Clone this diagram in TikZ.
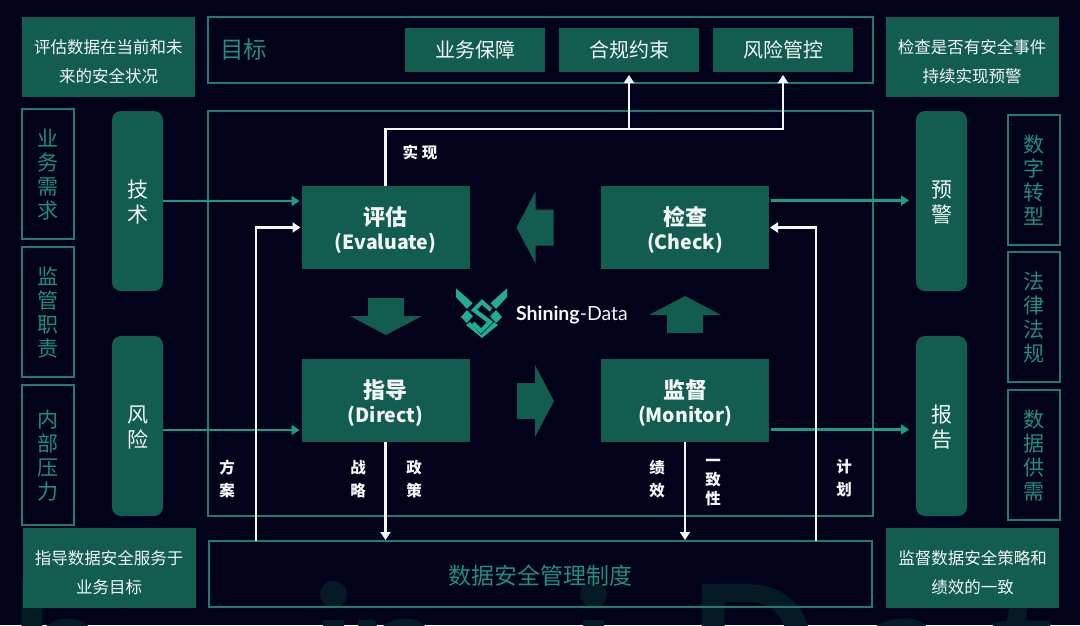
\documentclass[tikz,border=0pt]{standalone}
\usepackage{fontspec}
\setmainfont{Noto Sans CJK SC}
\newfontfamily\logofont{Lato}
\usetikzlibrary{positioning,arrows.meta}
\definecolor{nightbg}{HTML}{02021A}
\definecolor{panelgreen}{HTML}{125C50}
\definecolor{framegreen}{HTML}{1F7C72}
\definecolor{inkgreen}{HTML}{1F8F7D}
\definecolor{linkgreen}{HTML}{1A9C85}
\definecolor{logogreen}{HTML}{22AD92}
\definecolor{ghostgreen}{HTML}{041A24}
\definecolor{paper}{HTML}{F2F6F5}
% pushes a node's text down by half of the added first-line height
\newcommand{\lift}[1]{\rule{0pt}{#1}}

\begin{document}
\begin{tikzpicture}[
  x=1pt, y=-1pt,
  every node/.style={outer sep=0pt, inner sep=0pt, align=center},
  notebox/.style={fill=panelgreen, text=paper, minimum width=173pt, minimum height=80pt,
    font=\fontsize{16.5}{29}\selectfont},
  framebox/.style={draw=framegreen, line width=1.2pt},
  sidebox/.style={framebox, text=inkgreen, minimum width=52pt, minimum height=130pt,
    font=\fontsize{21}{24}\selectfont},
  pillbox/.style={fill=panelgreen, rounded corners=9pt, text=paper, minimum width=51pt,
    minimum height=180pt, font=\fontsize{21}{24.5}\selectfont},
  goalbox/.style={fill=panelgreen, text=paper, minimum width=140pt, minimum height=44pt,
    font=\fontsize{20}{24}\selectfont},
  corebox/.style={fill=panelgreen, text=paper, minimum width=168pt, minimum height=83pt,
    font=\fontsize{19.5}{24}\selectfont\bfseries},
  tag/.style={text=paper, font=\fontsize{15.5}{23}\selectfont\bfseries},
  whitelink/.style={draw=paper, line width=2.2pt},
  whitearrow/.style={whitelink, -{Triangle[length=8pt,width=10pt]}, shorten >=1pt},
  greenarrow/.style={draw=linkgreen, line width=2.2pt, -{Triangle[length=8pt,width=10pt]}, shorten >=2pt}
]
\useasboundingbox (0,0) rectangle (1080,625);
\fill[nightbg] (0,0) rectangle (1080,625);

% faint lettering along the lower edge
\begin{scope}
\clip (0,0) rectangle (1080,625);
\foreach \ch/\cx in {h/12, i/312, n/348, i/572, D/688, a/860, t/990}
  \node[anchor=base west, text=ghostgreen, font=\fontsize{170}{170}\logofont\bfseries] (ghost\cx) at (\cx,707) {\ch};
\end{scope}

% outer frames
\node[framebox, minimum width=665pt, minimum height=405pt] (core) at (540.5,313.5) {};
\node[framebox, above=28pt of core, minimum width=665pt, minimum height=66pt] (goal) {};
\node[framebox, below=25pt of core, minimum width=663pt, minimum height=66pt, text=inkgreen,
  font=\fontsize{23}{28}\selectfont] (policy) {\lift{22pt}数据安全管理制度};
\node[anchor=west, text=inkgreen, font=\fontsize{23.5}{28}\selectfont] (goaltitle) at (220,50) {目标};

% goals
\node[goalbox] (riskctl) at (783,50) {风险管控};
\node[goalbox, left=14pt of riskctl] (comply) {合规约束};
\node[goalbox, left=14pt of comply] (assure) {业务保障};

% corner notes
\node[notebox] (evalnote) at (108.5,57) {\lift{24pt}评估数据在当前和未\\来的安全状况};
\node[notebox] (checknote) at (972,57) {\lift{24pt}检查是否有安全事件\\持续实现预警};
\node[notebox] (directnote) at (109,568) {\lift{23pt}指导数据安全服务于\\业务目标};
\node[notebox] (monnote) at (972.5,568) {\lift{23pt}监督数据安全策略和\\绩效的一致};

% side columns
\node[sidebox] (demand) at (48,174) {\lift{18pt}业\\务\\需\\求};
\node[sidebox, below=8pt of demand] (duty) {\lift{18pt}监\\管\\职\\责};
\node[sidebox, below=8pt of duty, minimum height=140pt] (pressure) {\lift{18pt}内\\部\\压\\力};
\node[sidebox] (digital) at (1034,180) {\lift{18pt}数\\字\\转\\型};
\node[sidebox, below=7pt of digital] (law) {\lift{18pt}法\\律\\法\\规};
\node[sidebox, below=8pt of law] (supply) {\lift{18pt}数\\据\\供\\需};

\node[pillbox] (tech) at (137.5,201) {\lift{20pt}技\\术};
\node[pillbox, below=45pt of tech] (risk) {\lift{20pt}风\\险};
\node[pillbox] (alert) at (941.5,201) {\lift{20pt}预\\警};
\node[pillbox, below=45pt of alert] (report) {\lift{20pt}报\\告};

% the four activities
\node[corebox] (eval) at (385.5,227.5) {\lift{23pt}{\fontsize{22}{26}\selectfont 评估}\\(Evaluate)};
\node[corebox, right=131.5pt of eval] (check) {\lift{23pt}{\fontsize{22}{26}\selectfont 检查}\\(Check)};
\node[corebox, below=90pt of eval] (direct) {\lift{23pt}{\fontsize{22}{26}\selectfont 指导}\\(Direct)};
\node[corebox, below=90pt of check] (monitor) {\lift{23pt}{\fontsize{22}{26}\selectfont 监督}\\(Monitor)};

% block arrows between them
\foreach \cx/\cy/\ang in {535.5/227.5/180, 386/316/-90, 535/401/0, 685/315/90}
  \fill[panelgreen, shift={(\cx,\cy)}, rotate=\ang]
    (-18,-18) -- (0,-18) -- (0,-36) -- (19,0) -- (0,36) -- (0,18) -- (-18,18) -- cycle;

% logo
\fill[logogreen] (456,288.3) -- (472.7,303) -- (467,309) -- (456,297) -- cycle;
\fill[logogreen] (507,288.3) -- (507,297) -- (496,309) -- (490.7,303) -- cycle;
\fill[logogreen] (461,317) -- (467,310) -- (473,316) -- (467,323) -- cycle;
\fill[logogreen] (502,317) -- (496,310) -- (490,316) -- (496,323) -- cycle;
\draw[logogreen, line width=4.2pt] (491,310) -- (482,302) -- (474,310) -- (490,322) -- (481,331) -- (473,323);
\fill[logogreen] (466,325) -- (482,338) -- (498,325) -- (494,322) -- (481,335) -- (470,322) -- cycle;
\node[anchor=base west, text=paper, font=\fontsize{19.5}{20}\logofont] (brand) at (516,320)
  {\textbf{Shining}-Data};

% connectors
\draw[greenarrow] (tech.east) -- (tech.east -| eval.west);
\draw[greenarrow] ([yshift=-4pt]risk.east) -- ([yshift=-4pt]risk.east -| direct.west);
\draw[greenarrow, shorten >=7pt] ([xshift=2pt,yshift=27pt]check.east) -- ([yshift=27pt]check.east -| alert.west);
\draw[greenarrow, shorten >=7pt] ([xshift=2pt,yshift=-29pt]monitor.east) -- ([yshift=-29pt]monitor.east -| report.west);

\coordinate (realize) at (eval.north |- 0,129);
\coordinate (planfoot) at (256,541);
\coordinate (schemefoot) at (816,541);
\draw[whitearrow, shorten >=3pt] (eval.north) -- (realize) -| (riskctl.south);
\draw[whitearrow, shorten >=3pt] (realize -| comply.south) -- (comply.south);
\draw[whitearrow] (planfoot) |- (eval.west);
\draw[whitearrow] (schemefoot) |- (check.east);
\draw[whitearrow] (direct.south) -- (direct.south |- policy.north);
\draw[whitearrow] (monitor.south) -- (monitor.south |- policy.north);

% labels on the connectors
\node[tag] (lrealize) at (420,152) {实 现};
\node[tag] (lplan) at (227,479) {方\\案};
\node[tag] (lstrategy) at (358,479) {战\\略};
\node[tag] (lpolicy) at (414,479) {政\\策};
\node[tag] (lperf) at (657,479) {绩\\效};
\node[tag, font=\fontsize{15.5}{19}\selectfont\bfseries] (lconsist) at (713,483) {一\\致\\性};
\node[tag] (lscheme) at (844,478) {计\\划};
\end{tikzpicture}
\end{document}
